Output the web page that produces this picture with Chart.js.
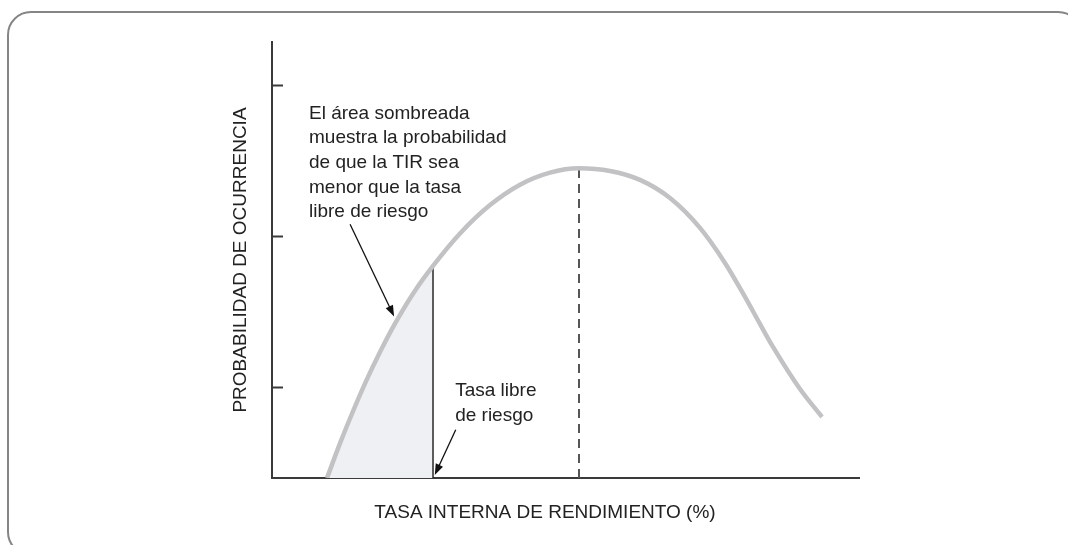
<!DOCTYPE html>
<html>
<head>
<meta charset="utf-8">
<script src="https://cdn.jsdelivr.net/npm/chart.js@4/dist/chart.umd.min.js"></script>
<style>
  html, body { margin: 0; padding: 0; background: #fff; overflow: hidden; }
  #wrap { position: relative; width: 1068px; height: 545px; }
  #frame {
    position: absolute; left: 7px; top: 11px; width: 1075px; height: 545px;
    border: 2.5px solid #858585; border-radius: 24px; box-sizing: border-box;
    pointer-events: none;
  }
  canvas { position: absolute; left: 0; top: 0; }
</style>
</head>
<body>
<div id="wrap">
  <canvas id="chart" width="1068" height="545"></canvas>
  <div id="frame"></div>
</div>
<script>
// Curve (x: return axis 0..100, y: probability units)
var curveX = [9.37, 11.58, 13.80, 16.01, 18.40, 20.95, 24.19, 27.43, 32.03, 37.14, 42.25, 47.36, 52.30,
              57.58, 62.69, 67.80, 72.91, 77.17, 80.58, 83.13, 85.35, 89.95, 93.70];
var curveY = [0, 0.229, 0.442, 0.640, 0.834, 1.022, 1.230, 1.404, 1.619, 1.807, 1.942, 2.022, 2.051,
              2.033, 1.974, 1.854, 1.656, 1.424, 1.199, 1.020, 0.868, 0.589, 0.404];

var riskFree = 27.43;  // tasa libre de riesgo
var meanX = 52.30;     // media (línea discontinua)
var yTicks = [0.6, 1.6, 2.6];

var xTitle = "TASA INTERNA DE RENDIMIENTO (%)";
var yTitle = "PROBABILIDAD DE OCURRENCIA";
var noteLines = ["El área sombreada", "muestra la probabilidad", "de que la TIR sea", "menor que la tasa", "libre de riesgo"];
var rfLines = ["Tasa libre", "de riesgo"];

function pts(xs, ys) {
  var out = [];
  for (var i = 0; i < xs.length; i++) out.push({ x: xs[i], y: ys[i] });
  return out;
}

function yAt(x) {
  for (var i = 0; i < curveX.length; i++) if (curveX[i] === x) return curveY[i];
  return 0;
}

var curvePts = pts(curveX, curveY);
// shaded part: curve up to the risk-free rate, filled down to the axis
var shadedPts = curvePts.filter(function (p) { return p.x <= riskFree; });

var FONT = "19px 'Liberation Sans', Arial, sans-serif";

function arrow(ctx, x1, y1, x2, y2) {
  var a = Math.atan2(y2 - y1, x2 - x1);
  var len = 11, w = 4;
  ctx.beginPath();
  ctx.moveTo(x1, y1);
  ctx.lineTo(x2 - Math.cos(a) * len * 0.8, y2 - Math.sin(a) * len * 0.8);
  ctx.stroke();
  ctx.beginPath();
  ctx.moveTo(x2, y2);
  ctx.lineTo(x2 - Math.cos(a) * len + Math.sin(a) * w, y2 - Math.sin(a) * len - Math.cos(a) * w);
  ctx.lineTo(x2 - Math.cos(a) * len - Math.sin(a) * w, y2 - Math.sin(a) * len + Math.cos(a) * w);
  ctx.closePath();
  ctx.fill();
}

var extras = {
  id: "extras",
  afterDraw: function (chart) {
    var ctx = chart.ctx, xs = chart.scales.x, ys = chart.scales.y, area = chart.chartArea;
    ctx.save();
    // inward tick marks on the y axis
    ctx.strokeStyle = "#3a3a3a";
    ctx.lineWidth = 2;
    yTicks.forEach(function (v) {
      var py = Math.round(ys.getPixelForValue(v)) + 0.5;
      ctx.beginPath();
      ctx.moveTo(area.left, py);
      ctx.lineTo(area.left + 11, py);
      ctx.stroke();
    });

    // arrows
    ctx.strokeStyle = "#111";
    ctx.fillStyle = "#111";
    ctx.lineWidth = 1.3;
    arrow(ctx, xs.getPixelForValue(13.3), ys.getPixelForValue(1.68), xs.getPixelForValue(20.8), ys.getPixelForValue(1.07));
    arrow(ctx, xs.getPixelForValue(31.3), ys.getPixelForValue(0.32), xs.getPixelForValue(riskFree + 0.3), ys.getPixelForValue(0.02));

    // texts
    ctx.fillStyle = "#222";
    ctx.font = FONT;
    ctx.textBaseline = "alphabetic";
    ctx.textAlign = "left";
    var nx = xs.getPixelForValue(6.3), ny = ys.getPixelForValue(2.38);
    noteLines.forEach(function (t, i) { ctx.fillText(t, nx, ny + i * 24.7); });
    var rx = xs.getPixelForValue(31.2), ry = ys.getPixelForValue(0.54);
    rfLines.forEach(function (t, i) { ctx.fillText(t, rx, ry + i * 25); });

    ctx.textAlign = "center";
    ctx.fillText(xTitle, 545, 518);
    ctx.save();
    ctx.translate(246, (area.top + area.bottom) / 2);
    ctx.rotate(-Math.PI / 2);
    ctx.fillText(yTitle, 0, 0);
    ctx.restore();
    ctx.restore();
  }
};

new Chart(document.getElementById("chart"), {
  type: "line",
  data: {
    datasets: [
      {
        label: "curva",
        data: curvePts,
        borderColor: "#c2c2c4",
        borderWidth: 4.5,
        pointRadius: 0,
        cubicInterpolationMode: "monotone",
        fill: false,
        order: 1
      },
      {
        label: "libre de riesgo",
        data: [{ x: riskFree, y: 0 }, { x: riskFree, y: yAt(riskFree) }],
        borderColor: "#1a1a1a",
        borderWidth: 1.4,
        pointRadius: 0,
        order: 2
      },
      {
        label: "media",
        data: [{ x: meanX, y: 0 }, { x: meanX, y: yAt(meanX) }],
        borderColor: "#555",
        borderWidth: 2,
        borderDash: [9, 6],
        pointRadius: 0,
        order: 3
      },
      {
        label: "sombreado",
        data: shadedPts,
        borderWidth: 0,
        borderColor: "rgba(0,0,0,0)",
        backgroundColor: "#eff0f3",
        pointRadius: 0,
        cubicInterpolationMode: "monotone",
        fill: "origin",
        order: 4
      }
    ]
  },
  options: {
    responsive: false,
    animation: false,
    layout: { padding: { left: 272, top: 42, right: 209, bottom: 67 } },
    plugins: { legend: { display: false }, tooltip: { enabled: false } },
    scales: {
      x: {
        type: "linear", min: 0, max: 100,
        grid: { display: false, drawTicks: false },
        ticks: { display: false },
        border: { display: true, color: "#3a3a3a", width: 2 }
      },
      y: {
        type: "linear", min: 0, max: 2.887,
        grid: { display: false, drawTicks: false },
        ticks: { display: false },
        border: { display: true, color: "#3a3a3a", width: 2 }
      }
    }
  },
  plugins: [extras]
});
</script>
</body>
</html>
